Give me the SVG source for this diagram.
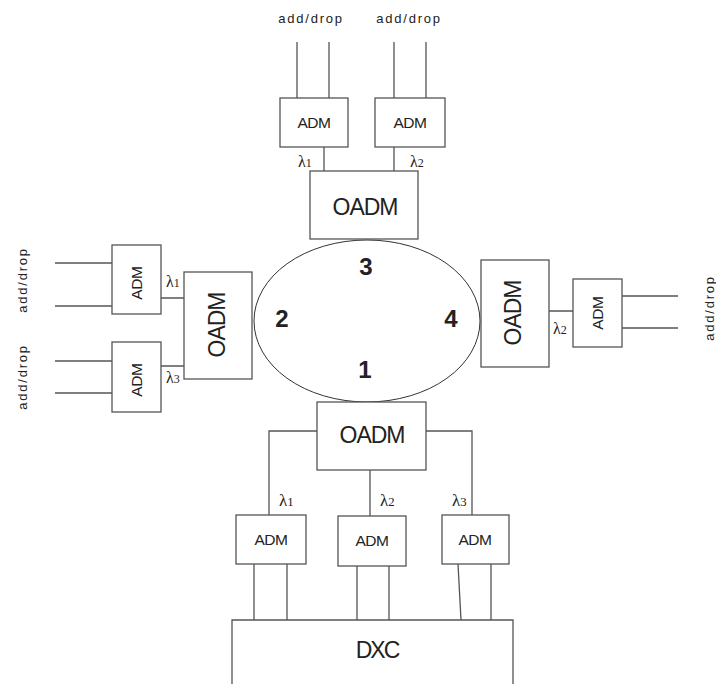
<svg xmlns="http://www.w3.org/2000/svg" width="716" height="684" viewBox="0 0 716 684">
<style>
.b{fill:#fff;stroke:#555;stroke-width:1.3}
.l{fill:none;stroke:#555;stroke-width:1.3}
.t{font-family:"Liberation Sans",Arial,sans-serif;fill:#222;text-anchor:middle}
.adm{font-size:15.5px;letter-spacing:-0.4px}
.oadm{font-size:23px;letter-spacing:-1px}
.dxc{font-size:23px;letter-spacing:-2px}
.ad{font-size:13px;letter-spacing:1.8px}
.num{font-size:24px;font-weight:bold}
.lam{font-family:"Liberation Serif","Times New Roman",serif;fill:#222;font-size:16px}
.lamb{font-family:"Liberation Serif","Times New Roman",serif;fill:#222;font-size:17px}
.sub{font-size:0.75em}
</style>
<rect width="716" height="684" fill="#fff"/>
<g id="connectors">
<path class="l" d="M297 42V98M329 42V98M394 42V98M426 42V98"/>
<path class="l" d="M324 147V171M394 147V171"/>
<path class="l" d="M55 263H112M55 306H112M55 361H112M55 393H112"/>
<path class="l" d="M161 298H184M161 366H184"/>
<path class="l" d="M549 311H573M622 296H678M622 328H678"/>
<path class="l" d="M317 431H269V515M370 470V516M426 431H472V515"/>
<path class="l" d="M254 564V620M287 564V620M357 566V620M389 566V620M458 564L461 620M491 564V620"/>
</g>
<g id="ring">
<ellipse cx="367" cy="321" rx="113" ry="81" fill="none" stroke="#333" stroke-width="1"/>
<text class="t num" x="366" y="275">3</text>
<text class="t num" x="282" y="327">2</text>
<text class="t num" x="451" y="327">4</text>
<text class="t num" x="365" y="378">1</text>
</g>
<g id="oadm3">
<rect class="b" x="310" y="171" width="108" height="68"/>
<text class="t oadm" x="365" y="215">OADM</text>
</g>
<g id="adm3a">
<rect class="b" x="280" y="98" width="68" height="49"/>
<text class="t adm" x="314" y="128">ADM</text>
</g>
<g id="adm3b">
<rect class="b" x="375" y="98" width="70" height="49"/>
<text class="t adm" x="410" y="128">ADM</text>
</g>
<text class="t ad" x="311" y="23">add/drop</text>
<text class="t ad" x="409" y="23">add/drop</text>
<text class="lam" x="298" y="167">λ<tspan class="sub">1</tspan></text>
<text class="lam" x="410" y="167">λ<tspan class="sub">2</tspan></text>
<g id="oadm2">
<rect class="b" x="184" y="272" width="68" height="107"/>
<text class="t oadm" transform="translate(225,325) rotate(-90)">OADM</text>
</g>
<g id="adm2a">
<rect class="b" x="112" y="245" width="49" height="69"/>
<text class="t adm" transform="translate(142,283) rotate(-90)">ADM</text>
</g>
<g id="adm2b">
<rect class="b" x="112" y="342" width="49" height="70"/>
<text class="t adm" transform="translate(142,380) rotate(-90)">ADM</text>
</g>
<text class="t ad" transform="translate(27,280) rotate(-90)">add/drop</text>
<text class="t ad" transform="translate(27,377) rotate(-90)">add/drop</text>
<text class="lam" x="166" y="287">λ<tspan class="sub">1</tspan></text>
<text class="lam" x="166" y="383">λ<tspan class="sub">3</tspan></text>
<g id="oadm4">
<rect class="b" x="481" y="260" width="68" height="107"/>
<text class="t oadm" transform="translate(521,313) rotate(-90)">OADM</text>
</g>
<g id="adm4">
<rect class="b" x="573" y="279" width="49" height="68"/>
<text class="t adm" transform="translate(603,313) rotate(-90)">ADM</text>
</g>
<text class="t ad" transform="translate(714,308) rotate(-90)">add/drop</text>
<text class="lam" x="553" y="334">λ<tspan class="sub">2</tspan></text>
<g id="oadm1">
<rect class="b" x="317" y="402" width="109" height="68"/>
<text class="t oadm" x="372" y="443">OADM</text>
</g>
<g id="adm1a">
<rect class="b" x="236" y="515" width="70" height="49"/>
<text class="t adm" x="271" y="545">ADM</text>
</g>
<g id="adm1b">
<rect class="b" x="338" y="516" width="68" height="50"/>
<text class="t adm" x="372" y="546">ADM</text>
</g>
<g id="adm1c">
<rect class="b" x="442" y="515" width="67" height="49"/>
<text class="t adm" x="475" y="545">ADM</text>
</g>
<text class="lamb" x="279" y="506">λ<tspan class="sub">1</tspan></text>
<text class="lamb" x="380" y="506">λ<tspan class="sub">2</tspan></text>
<text class="lamb" x="452" y="506">λ<tspan class="sub">3</tspan></text>
<g id="dxc">
<path class="b" d="M232 690V620H513V690"/>
<text class="t dxc" x="377" y="658">DXC</text>
</g>
</svg>
